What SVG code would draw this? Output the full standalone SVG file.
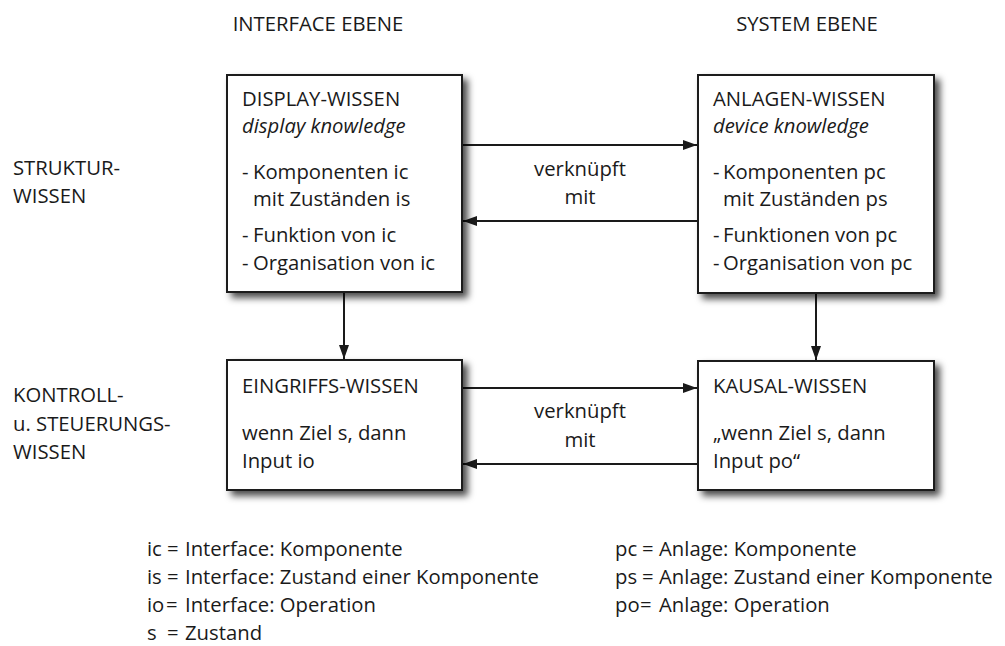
<svg xmlns="http://www.w3.org/2000/svg" width="1005" height="646" viewBox="0 0 1005 646">
  <style>
    text { font-family: "Open Sans", "Noto Sans", "Liberation Sans", sans-serif; font-size: 20.3px; fill: #1a1a1a; }
    .it { font-style: italic; }
    .box { fill: #ffffff; stroke: #1a1a1a; stroke-width: 2; }
    .link { stroke: #1a1a1a; stroke-width: 2; fill: none; }
    .mid { text-anchor: middle; }
  </style>
  <defs>
    <filter id="shadow" x="-10%" y="-10%" width="130%" height="130%">
      <feDropShadow dx="5" dy="5" stdDeviation="3.5" flood-color="#000" flood-opacity="0.7"/>
    </filter>
    <marker id="head" viewBox="0 0 14 10" refX="14" refY="5" markerWidth="14" markerHeight="10" markerUnits="userSpaceOnUse" orient="auto">
      <path d="M0,0 L14,5 L0,10 Z" fill="#1a1a1a"/>
    </marker>
  </defs>

  <!-- column headers -->
  <text x="318" y="31" class="mid">INTERFACE EBENE</text>
  <text x="807" y="31" class="mid">SYSTEM EBENE</text>

  <!-- row headers -->
  <text x="13" y="175">STRUKTUR-</text>
  <text x="13" y="203">WISSEN</text>
  <text x="13" y="402">KONTROLL-</text>
  <text x="13" y="431">u. STEUERUNGS-</text>
  <text x="13" y="459">WISSEN</text>

  <!-- connectors -->
  <g id="connectors">
    <line class="link" x1="463" y1="145" x2="697" y2="145" marker-end="url(#head)"/>
    <line class="link" x1="697" y1="221" x2="463" y2="221" marker-end="url(#head)"/>
    <line class="link" x1="463" y1="388" x2="697" y2="388" marker-end="url(#head)"/>
    <line class="link" x1="697" y1="464" x2="463" y2="464" marker-end="url(#head)"/>
    <line class="link" x1="344" y1="293" x2="344" y2="359" marker-end="url(#head)"/>
    <line class="link" x1="816" y1="293" x2="816" y2="360" marker-end="url(#head)"/>
    <text x="580" y="176" class="mid">verknüpft</text>
    <text x="580" y="204" class="mid">mit</text>
    <text x="580" y="418" class="mid">verknüpft</text>
    <text x="580" y="447" class="mid">mit</text>
  </g>

  <!-- display knowledge -->
  <g id="display-wissen">
    <rect class="box" x="227" y="75" width="235" height="217" filter="url(#shadow)"/>
    <text x="242" y="106">DISPLAY-WISSEN</text>
    <text x="242" y="133" class="it">display knowledge</text>
    <text x="242" y="179">-</text><text x="253" y="179">Komponenten ic</text>
    <text x="253" y="206">mit Zuständen is</text>
    <text x="242" y="242">-</text><text x="253" y="242">Funktion von ic</text>
    <text x="242" y="270">-</text><text x="253" y="270">Organisation von ic</text>
  </g>

  <!-- device knowledge -->
  <g id="anlagen-wissen">
    <rect class="box" x="698" y="75" width="236" height="218" filter="url(#shadow)"/>
    <text x="713" y="106">ANLAGEN-WISSEN</text>
    <text x="713" y="133" class="it">device knowledge</text>
    <text x="713" y="179">-</text><text x="723" y="179">Komponenten pc</text>
    <text x="723" y="206">mit Zuständen ps</text>
    <text x="713" y="242">-</text><text x="723" y="242">Funktionen von pc</text>
    <text x="713" y="270">-</text><text x="723" y="270">Organisation von pc</text>
  </g>

  <!-- intervention knowledge -->
  <g id="eingriffs-wissen">
    <rect class="box" x="227" y="360" width="235" height="130" filter="url(#shadow)"/>
    <text x="242" y="393">EINGRIFFS-WISSEN</text>
    <text x="242" y="440">wenn Ziel s, dann</text>
    <text x="242" y="468">Input io</text>
  </g>

  <!-- causal knowledge -->
  <g id="kausal-wissen">
    <rect class="box" x="698" y="361" width="236" height="129" filter="url(#shadow)"/>
    <text x="713" y="393">KAUSAL-WISSEN</text>
    <text x="713" y="440">„wenn Ziel s, dann</text>
    <text x="713" y="468">Input po“</text>
  </g>

  <!-- legend -->
  <g id="legend">
    <text x="147" y="556">ic</text><text x="167" y="556">=</text><text x="185" y="556">Interface: Komponente</text>
    <text x="147" y="584">is</text><text x="167" y="584">=</text><text x="185" y="584">Interface: Zustand einer Komponente</text>
    <text x="147" y="612">io</text><text x="166" y="612">=</text><text x="185" y="612">Interface: Operation</text>
    <text x="147" y="640">s</text><text x="167" y="640">=</text><text x="185" y="640">Zustand</text>
    <text x="615" y="556">pc</text><text x="642" y="556">=</text><text x="659" y="556">Anlage: Komponente</text>
    <text x="615" y="584">ps</text><text x="642" y="584">=</text><text x="659" y="584">Anlage: Zustand einer Komponente</text>
    <text x="615" y="612">po</text><text x="640" y="612">=</text><text x="659" y="612">Anlage: Operation</text>
  </g>
</svg>
